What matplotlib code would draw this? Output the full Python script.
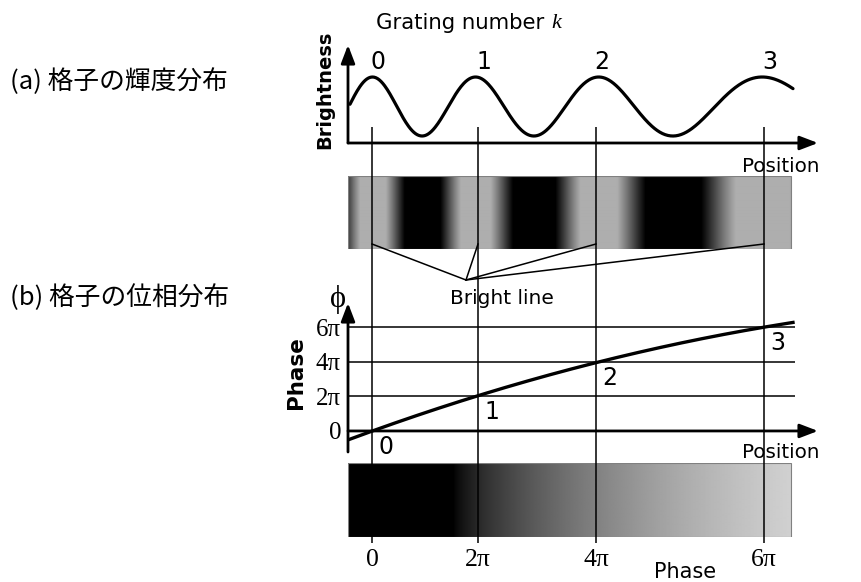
import numpy as np
import matplotlib
matplotlib.use('Agg')
import matplotlib.pyplot as plt

plt.rcParams['font.family'] = ['DejaVu Sans']

W, H = 862, 582
SERIF = ['Liberation Serif', 'DejaVu Serif']
CJK = ['Noto Sans CJK JP', 'DejaVu Sans']

# grating lines: order k and where they sit along the sample
grating_k = [0, 1, 2, 3]
grating_pos = [0.24, 1.30, 2.48, 4.16]
# phase (in units of pi) read at both ends of the scan
edge_pos = [0.02, 4.45]
edge_phase = [-0.47, 6.30]
phase_labels = ['0', '2π', '4π', '6π']

X_END = 4.70      # tip of the position arrows
IMG_END = 4.43    # right edge of the two grey strips

# smooth phase(position) through the read points
knot_pos = np.array([edge_pos[0]] + grating_pos + [edge_pos[1]])
knot_phase = np.pi * np.array([edge_phase[0]] + [2 * k for k in grating_k] + [edge_phase[1]])
coef = np.polyfit(knot_pos, knot_phase, 2)
pos = np.linspace(edge_pos[0], edge_pos[1], 500)
phase = np.polyval(coef, pos)
bright = np.cos(phase)

fig = plt.figure(figsize=(W / 100, H / 100), dpi=100)


def px_axes(x0, y0, x1, y1, **kw):
    return fig.add_axes([x0 / W, 1 - y1 / H, (x1 - x0) / W, (y1 - y0) / H], **kw)


def arrow(ax, xy, xytext, coords='axes fraction'):
    ax.annotate('', xy=xy, xytext=xytext, xycoords=coords, textcoords=coords,
                arrowprops=dict(arrowstyle='-|>,head_length=1.1,head_width=0.42',
                                mutation_scale=10, lw=2, color='black',
                                shrinkA=0, shrinkB=0), annotation_clip=False)


def strip_axes(y0, y1, grey):
    ax = px_axes(348, y0, 818, y1)
    ax.imshow(grey[None, :], cmap='gray', vmin=0, vmax=1, aspect='auto',
              extent=(0, IMG_END, 0, 1), interpolation='bilinear')
    ax.add_patch(plt.Rectangle((0, 0), IMG_END, 1, fill=False, ec='0.5', lw=0.8))
    ax.set_xlim(0, X_END)
    ax.set_ylim(0, 1)
    for spine in ax.spines.values():
        spine.set_visible(False)
    ax.set_xticks([])
    ax.set_yticks([])
    return ax


# (a) brightness profile
ax_b = px_axes(348, 45, 818, 143)
ax_b.set_xlim(0, X_END)
ax_b.set_ylim(-1.237, 2.085)
ax_b.axis('off')
ax_b.plot(pos, bright, color='black', lw=2.3, solid_capstyle='round')
arrow(ax_b, (0, 1), (0, 0))
arrow(ax_b, (1, 0), (0, 0))
for k, p in zip(grating_k, grating_pos):
    ax_b.annotate(str(k), xy=(p, 1.0), xytext=(4, 11), textcoords='offset points',
                  ha='center', va='center', fontsize=17)

# grating strip
strip_pos = np.linspace(0, IMG_END, 443)
strip_phase = np.polyval(coef, strip_pos)
ax_g = strip_axes(176, 249, np.clip(0.28 + 0.6 * np.cos(strip_phase), 0, 0.68))

# (b) phase profile
ax_p = px_axes(348, 303, 818, 452)
ax_p.set_xlim(0, X_END)
ax_p.set_ylim(-1.22 * np.pi, 7.42 * np.pi)
for spine in ax_p.spines.values():
    spine.set_visible(False)
ax_p.set_xticks([])
ax_p.set_yticks([2 * np.pi * k for k in grating_k])
ax_p.set_yticklabels(phase_labels, family=SERIF, fontsize=18)
ax_p.tick_params(axis='y', length=0, pad=5)
ax_p.hlines([2 * np.pi * k for k in grating_k[1:]], 0, 4.47, color='black', lw=1.1)
ax_p.plot(pos, phase, color='black', lw=2.4)
arrow(ax_p, (0, 1), (0, 0))
arrow(ax_p, (X_END, 0), (0, 0), coords='data')
for k, p in zip(grating_k, grating_pos):
    ax_p.annotate(str(k), xy=(p, 2 * np.pi * k), xytext=(10, -11.5),
                  textcoords='offset points', ha='center', va='center', fontsize=17)

# phase strip
ramp = np.clip((strip_phase - 1.6 * np.pi) / (4.7 * np.pi), 0, 1) ** 0.7
ax_s = strip_axes(463, 537, 0.82 * ramp)
ax_s.set_xticks(grating_pos)
ax_s.set_xticklabels(phase_labels, family=SERIF, fontsize=18.5)
ax_s.tick_params(axis='x', length=0, pad=9)

# grating lines and leaders running through all panels
ov = px_axes(348, 0, 818, 582, zorder=5)
ov.set_xlim(0, X_END)
ov.set_ylim(H, 0)
ov.axis('off')
ov.patch.set_visible(False)
ov.vlines(grating_pos, 127, 543, color='black', lw=1.1)
for p in grating_pos:
    ov.plot([1.18, p], [280, 244], color='black', lw=1.1)
ov.text(1.54, 298, 'Bright line', ha='center', va='center', fontsize=14.5)

# labels
fig.text(10 / W, 1 - 82 / H, '(a) 格子の輝度分布', va='center', family=CJK, fontsize=18.5)
fig.text(10 / W, 1 - 298 / H, '(b) 格子の位相分布', va='center', family=CJK, fontsize=18.5)
fig.text(376 / W, 1 - 23 / H, 'Grating number', va='center', fontsize=15.3)
fig.text(551 / W, 1 - 23 / H, 'k', va='center', family=SERIF, style='italic', fontsize=16)
fig.text(325 / W, 1 - 90 / H, 'Brightness', rotation=90, ha='center', va='center',
         fontsize=14, fontweight='bold')
fig.text(781 / W, 1 - 166 / H, 'Position', ha='center', va='center', fontsize=14.3)
fig.text(781 / W, 1 - 452 / H, 'Position', ha='center', va='center', fontsize=14.3)
fig.text(338 / W, 1 - 299 / H, 'ϕ', ha='center', va='center', family=SERIF, fontsize=22)
fig.text(296 / W, 1 - 373 / H, 'Phase', rotation=90, ha='center', va='center',
         fontsize=15.5, fontweight='bold')
fig.text(685 / W, 1 - 572 / H, 'Phase', ha='center', va='center', fontsize=15)

fig.savefig('out.png', dpi=100)
